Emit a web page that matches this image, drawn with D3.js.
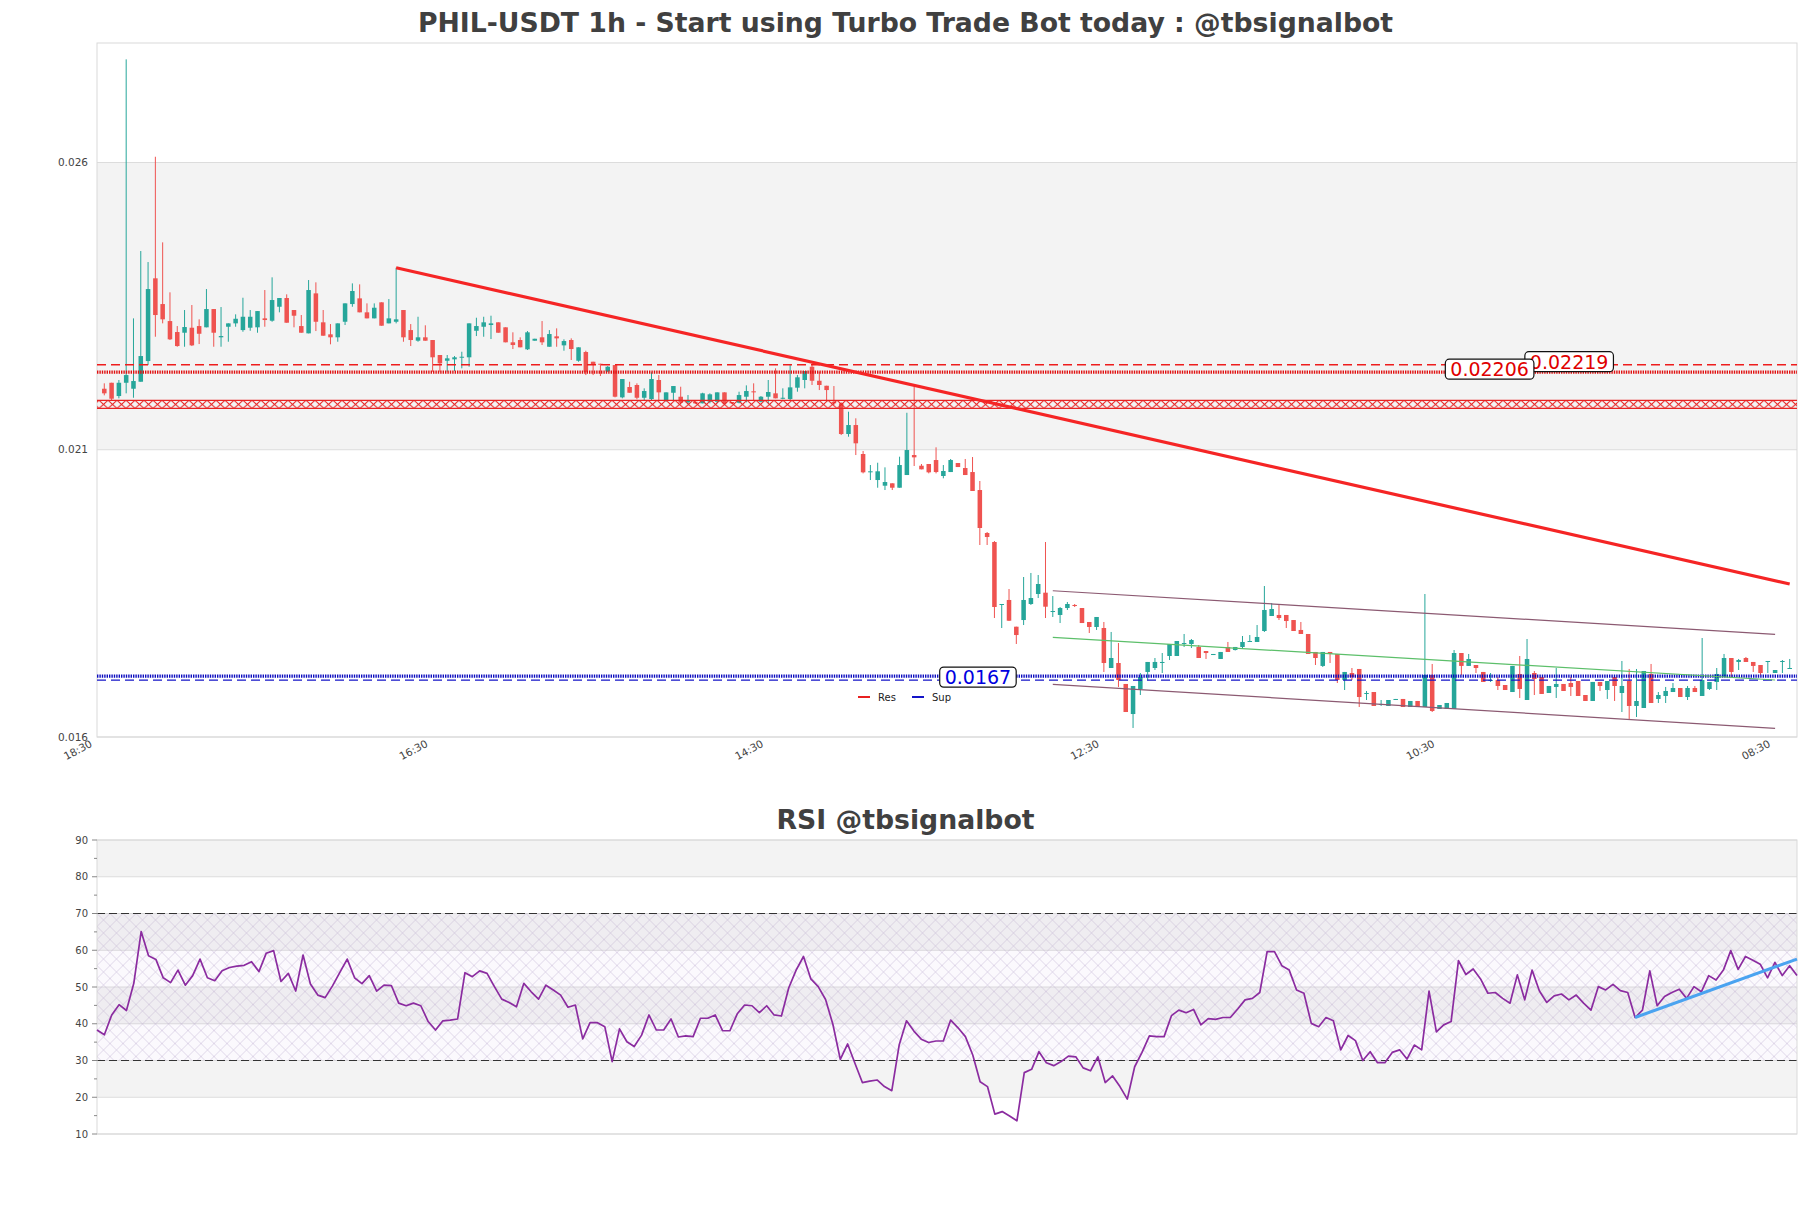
<!DOCTYPE html>
<html>
<head>
<meta charset="utf-8">
<script src="https://cdn.jsdelivr.net/npm/d3@7"></script>
<style>
  body { margin: 0; background: #fff; }
  text { font-family: "DejaVu Sans", sans-serif; }
</style>
</head>
<body>
<div id="chart"></div>
<script>
// ---- candles, 1h ----
var opens = [0.021772,0.021876,0.021645,0.021876,0.021772,0.021894,0.022254,0.023694,0.023246,0.022950,
 0.022759,0.022747,0.022834,0.022863,0.022841,0.023159,0.022667,0.022851,0.022910,0.022793,
 0.022834,0.022841,0.022997,0.022956,0.023199,0.023351,0.023142,0.022863,0.022736,0.023432,
 0.022928,0.022719,0.022667,0.022938,0.023246,0.023345,0.023102,0.022997,0.023276,0.022910,
 0.022938,0.023142,0.022793,0.022608,0.022667,0.022620,0.022359,0.022259,0.022284,0.022312,
 0.022319,0.022781,0.022851,0.022881,0.022928,0.022841,0.022580,0.022620,0.022458,0.022608,
 0.022667,0.022503,0.022684,0.022527,0.022620,0.022259,0.022411,0.022242,0.022207,0.022075,
 0.022184,0.021622,0.021802,0.021837,0.021615,0.021593,0.021924,0.021558,0.021702,0.021633,
 0.021535,0.021546,0.021518,0.021546,0.021546,0.021709,0.021541,0.021528,0.021633,0.021727,
 0.021546,0.021633,0.021692,0.021598,0.021593,0.021790,0.021924,0.022155,0.021911,0.021824,
 0.021546,0.021518,0.020984,0.021140,0.020636,0.020317,0.020183,0.020084,0.020126,0.020049,
 0.020270,0.020618,0.020432,0.020462,0.020531,0.020253,0.020322,0.020479,0.020392,0.020322,
 0.020009,0.019261,0.019104,0.018008,0.018095,0.017630,0.017746,0.018025,0.018199,0.018222,
 0.017886,0.017834,0.017955,0.018008,0.017955,0.017712,0.017625,0.017607,0.016911,0.016998,
 0.016633,0.016110,0.016546,0.016842,0.016911,0.016998,0.017120,0.017120,0.017338,0.017329,
 0.017277,0.017207,0.017137,0.017068,0.017277,0.017224,0.017277,0.017364,0.017364,0.017555,
 0.017816,0.017834,0.017834,0.017746,0.017573,0.017503,0.017190,0.016947,0.017190,0.017155,
 0.016702,0.016824,0.016894,0.016467,0.016493,0.016267,0.016250,0.016363,0.016372,0.016232,
 0.016337,0.016232,0.016789,0.016198,0.016198,0.016198,0.017172,0.016947,0.016963,0.016842,
 0.016685,0.016702,0.016615,0.016493,0.016807,0.016354,0.016824,0.016755,0.016476,0.016581,
 0.016633,0.016650,0.016685,0.016441,0.016337,0.016668,0.016528,0.016755,0.016476,0.016685,
 0.016250,0.016215,0.016807,0.016372,0.016424,0.016493,0.016563,0.016406,0.016563,0.016424,
 0.016546,0.016668,0.016755,0.017085,0.017016,0.017085,0.017016,0.016963,0.017016,0.016824,
 0.017016,0.016894];

var highs = [0.021866,0.021876,0.021924,0.027505,0.022997,0.024169,0.023977,0.025810,0.024320,0.023450,
 0.022863,0.023142,0.023229,0.022980,0.023507,0.023159,0.023194,0.022910,0.023067,0.023356,
 0.023142,0.023124,0.023490,0.023711,0.023351,0.023415,0.023142,0.023055,0.023664,0.023624,
 0.023142,0.022898,0.022910,0.023258,0.023606,0.023589,0.023258,0.023258,0.023276,0.023333,
 0.023878,0.023142,0.022898,0.023025,0.022876,0.022620,0.022359,0.022359,0.022341,0.022416,
 0.022910,0.023008,0.023025,0.023043,0.022928,0.022841,0.022754,0.022667,0.022776,0.022642,
 0.022950,0.022793,0.022823,0.022632,0.022649,0.022493,0.022434,0.022242,0.022207,0.022167,
 0.022184,0.021941,0.021894,0.021866,0.021779,0.022058,0.022010,0.021709,0.021819,0.021807,
 0.021662,0.021558,0.021702,0.021692,0.021709,0.021709,0.021541,0.021720,0.021831,0.021866,
 0.021645,0.021924,0.022127,0.021779,0.022184,0.022010,0.022080,0.022184,0.022068,0.021824,
 0.021819,0.021535,0.021372,0.021257,0.020688,0.020444,0.020484,0.020404,0.020126,0.020589,
 0.021354,0.021807,0.020462,0.020462,0.020752,0.020444,0.020549,0.020479,0.020549,0.020583,
 0.020166,0.019278,0.019121,0.018025,0.018286,0.017630,0.018495,0.018565,0.018530,0.019104,
 0.018164,0.017973,0.018060,0.018025,0.017955,0.017712,0.017799,0.017712,0.017538,0.017346,
 0.016633,0.016598,0.016824,0.017016,0.017085,0.017172,0.017329,0.017381,0.017503,0.017416,
 0.017311,0.017207,0.017155,0.017190,0.017364,0.017277,0.017468,0.017485,0.017659,0.018338,
 0.018042,0.018025,0.017834,0.017746,0.017712,0.017503,0.017190,0.017190,0.017190,0.017155,
 0.016842,0.016911,0.016894,0.016511,0.016493,0.016354,0.016354,0.016372,0.016372,0.016337,
 0.016337,0.018199,0.016981,0.016267,0.016302,0.017224,0.017172,0.017155,0.016963,0.016842,
 0.016824,0.016755,0.016615,0.016947,0.017120,0.017416,0.016859,0.016755,0.016598,0.016911,
 0.016633,0.016755,0.016685,0.016441,0.016668,0.016668,0.016685,0.016755,0.017033,0.016894,
 0.016894,0.016859,0.016981,0.016493,0.016581,0.016650,0.016563,0.016598,0.016598,0.017433,
 0.016668,0.016911,0.017155,0.017085,0.017068,0.017103,0.017016,0.016963,0.017033,0.016876,
 0.017050,0.017068];

var lows = [0.021657,0.021575,0.021605,0.021692,0.021615,0.021894,0.022184,0.022677,0.022910,0.022620,
 0.022503,0.022503,0.022515,0.022550,0.022841,0.022503,0.022503,0.022590,0.022851,0.022764,
 0.022781,0.022747,0.022851,0.022938,0.023102,0.022921,0.022841,0.022747,0.022736,0.022776,
 0.022695,0.022545,0.022590,0.022881,0.023199,0.023102,0.022997,0.022997,0.022869,0.022910,
 0.022910,0.022590,0.022515,0.022590,0.022608,0.022068,0.022068,0.022068,0.022080,0.022127,
 0.022155,0.022689,0.022677,0.022637,0.022747,0.022580,0.022463,0.022493,0.022446,0.022608,
 0.022533,0.022503,0.022503,0.022434,0.022272,0.022242,0.022010,0.022010,0.021993,0.022063,
 0.021622,0.021605,0.021702,0.021588,0.021575,0.021575,0.021575,0.021546,0.021575,0.021501,
 0.021506,0.021506,0.021518,0.021518,0.021518,0.021506,0.021506,0.021518,0.021535,0.021575,
 0.021535,0.021518,0.021605,0.021588,0.021575,0.021720,0.021779,0.021837,0.021749,0.021546,
 0.021488,0.020966,0.020937,0.020618,0.020299,0.020183,0.020049,0.020009,0.020009,0.020049,
 0.020270,0.020427,0.020369,0.020299,0.020299,0.020213,0.020322,0.020409,0.020270,0.019992,
 0.019052,0.019052,0.017781,0.017607,0.017729,0.017329,0.017659,0.018008,0.018129,0.017781,
 0.017799,0.017694,0.017921,0.017973,0.017694,0.017520,0.017573,0.016842,0.016911,0.016581,
 0.016145,0.015867,0.016441,0.016702,0.016876,0.016824,0.017050,0.017120,0.017277,0.017259,
 0.017085,0.017068,0.017137,0.017068,0.017190,0.017216,0.017259,0.017364,0.017364,0.017538,
 0.017816,0.017746,0.017607,0.017555,0.017503,0.017155,0.016963,0.016929,0.016998,0.016650,
 0.016528,0.016702,0.016232,0.016354,0.016250,0.016250,0.016250,0.016354,0.016232,0.016232,
 0.016232,0.016232,0.016145,0.016198,0.016198,0.016198,0.016789,0.016947,0.016824,0.016668,
 0.016668,0.016528,0.016528,0.016493,0.016389,0.016354,0.016441,0.016459,0.016476,0.016389,
 0.016511,0.016424,0.016424,0.016337,0.016337,0.016511,0.016372,0.016337,0.016145,0.016024,
 0.016058,0.016215,0.016302,0.016302,0.016302,0.016493,0.016406,0.016354,0.016493,0.016424,
 0.016528,0.016528,0.016755,0.016755,0.016876,0.017016,0.016842,0.016789,0.016824,0.016824,
 0.016824,0.016894];

var closes = [0.021692,0.021598,0.021876,0.022010,0.021906,0.022341,0.023507,0.023055,0.022980,0.022632,
 0.022515,0.022846,0.022527,0.022729,0.023159,0.022747,0.022689,0.022910,0.022990,0.023025,
 0.023025,0.023124,0.022968,0.023316,0.023351,0.022921,0.023043,0.022747,0.023490,0.022938,
 0.022695,0.022667,0.022910,0.023258,0.023473,0.023102,0.022997,0.023182,0.022869,0.022997,
 0.022980,0.022667,0.022620,0.022667,0.022608,0.022319,0.022214,0.022301,0.022319,0.022329,
 0.022910,0.022863,0.022928,0.022910,0.022747,0.022580,0.022533,0.022493,0.022754,0.022642,
 0.022580,0.022724,0.022649,0.022602,0.022463,0.022493,0.022068,0.022197,0.022190,0.022155,
 0.021633,0.021941,0.021702,0.021615,0.021732,0.021941,0.021709,0.021709,0.021819,0.021528,
 0.021558,0.021518,0.021692,0.021675,0.021709,0.021518,0.021518,0.021662,0.021732,0.021709,
 0.021633,0.021715,0.021605,0.021615,0.021796,0.021971,0.022080,0.021911,0.021837,0.021749,
 0.021518,0.020984,0.021140,0.020822,0.020317,0.020335,0.020335,0.020148,0.020049,0.020444,
 0.020705,0.020578,0.020369,0.020317,0.020322,0.020340,0.020531,0.020409,0.020270,0.019992,
 0.019348,0.019191,0.017973,0.018025,0.017734,0.017485,0.018095,0.018129,0.018373,0.017978,
 0.017903,0.017955,0.018025,0.017990,0.017694,0.017625,0.017799,0.016998,0.017085,0.016702,
 0.016145,0.016598,0.016755,0.017016,0.017016,0.017016,0.017329,0.017381,0.017346,0.017398,
 0.017085,0.017172,0.017155,0.017190,0.017190,0.017277,0.017364,0.017381,0.017451,0.017921,
 0.017938,0.017781,0.017729,0.017555,0.017503,0.017155,0.017085,0.017190,0.017155,0.016702,
 0.016842,0.016755,0.016406,0.016476,0.016250,0.016285,0.016354,0.016372,0.016232,0.016337,
 0.016232,0.016789,0.016163,0.016267,0.016302,0.017172,0.016947,0.017068,0.016911,0.016668,
 0.016702,0.016598,0.016528,0.016947,0.016546,0.017068,0.016720,0.016459,0.016598,0.016633,
 0.016511,0.016581,0.016424,0.016337,0.016668,0.016598,0.016685,0.016598,0.016598,0.016250,
 0.016337,0.016859,0.016302,0.016441,0.016511,0.016563,0.016406,0.016563,0.016493,0.016702,
 0.016668,0.016807,0.017085,0.016842,0.017050,0.017016,0.016947,0.016824,0.017033,0.016876,
 0.017033,0.016911];

// ---- RSI series ----
var rsi = [38.3,37.0,42.4,45.2,43.6,51.0,65.1,58.5,57.5,52.5,
 51.2,54.6,50.5,53.1,57.6,52.5,51.7,54.4,55.3,55.7,
 55.9,56.9,54.2,59.2,59.9,51.5,53.7,48.9,58.7,50.8,
 47.8,47.1,50.3,54.0,57.6,52.5,50.9,53.1,48.9,50.5,
 50.4,45.6,44.9,45.6,44.9,40.6,38.3,40.8,41.0,41.3,
 53.9,52.8,54.4,53.7,50.1,46.7,45.8,44.6,51.0,48.7,
 46.7,50.5,49.2,47.8,44.5,45.1,35.9,40.3,40.3,39.2,
 29.7,38.6,35.1,33.8,36.9,42.4,38.3,38.3,41.3,36.4,
 36.7,36.5,41.5,41.5,42.4,38.1,38.1,42.7,45.1,44.9,
 43.0,44.9,42.4,42.1,49.8,54.6,58.3,52.2,50.1,46.6,
 39.8,30.3,34.5,29.2,24.0,24.4,24.7,22.9,21.8,34.2,
 40.8,38.0,35.8,34.9,35.3,35.3,41.0,38.9,36.5,31.5,
 24.2,22.9,15.4,16.1,14.9,13.6,26.7,27.6,32.4,29.4,
 28.6,29.7,31.2,31.0,28.0,27.2,31.0,24.0,25.8,22.9,
 19.5,28.3,32.2,36.7,36.5,36.5,42.2,43.7,43.0,43.9,
 39.7,41.4,41.2,41.7,41.7,44.0,46.5,46.9,48.5,59.6,
 59.6,55.8,54.6,49.2,48.3,40.1,39.2,41.7,40.8,32.9,
 36.8,35.4,30.0,32.4,29.4,29.4,32.2,32.9,30.4,34.2,
 32.9,48.9,37.8,39.7,40.6,57.2,53.4,54.9,52.2,48.3,
 48.5,46.9,45.6,53.3,46.5,54.6,48.9,45.8,47.6,48.1,
 46.5,47.8,45.6,43.7,50.1,49.2,50.7,49.0,48.5,41.7,
 43.7,54.4,44.9,47.4,48.5,49.4,46.9,50.1,48.7,53.1,
 51.9,54.6,59.9,54.8,58.3,57.3,56.2,52.5,56.7,53.1,
 55.8,53.1];

// ---- axes ----
var xTickPos = [-1.45, 44.55, 90.55, 136.55, 182.55, 228.55];
var xTickLabels = ["18:30", "16:30", "14:30", "12:30", "10:30", "08:30"];
var priceTicks = [0.01571, 0.02071, 0.02571];
var priceTop = 0.02779;
var rsiTicks = [10, 20, 30, 40, 50, 60, 70, 80, 90];
var rsiMinor = [15, 25, 35, 45, 55, 65, 75, 85];

// ---- levels and lines ----
var resDashed = 0.02219, resDotted = 0.02206;
var supDashed = 0.01670, supDotted = 0.01677;
var resZone = [0.02143, 0.02157];
var trendRes = [[40, 0.023878], [231, 0.018373]];
var chanUpper = [[130, 0.018256], [229, 0.017497]];
var chanMid = [[130, 0.017445], [229, 0.016702]];
var chanLower = [[130, 0.016627], [229, 0.015861]];
var priceLabels = [
  {text: "0.02219", at: 194.7, value: resDashed, color: "#e00000"},
  {text: "0.02206", at: 183.8, value: resDotted, color: "#e00000"},
  {text: "0.0167", at: 114.5, value: supDashed, color: "#0000e0"}
];
var rsiBounds = [30, 70];
var rsiTrend = [[209, 41.7], [231, 57.6]];

var upColor = "#26a69a", downColor = "#ef5350";

var W = 1811, H = 1208;
var svg = d3.select("#chart").append("svg")
  .attr("width", W).attr("height", H)
  .style("background", "#fff");

var defs = svg.append("defs");

// ================= main price panel =================
var pm = {left: 97, right: 1797, top: 43, bottom: 737};
var x = d3.scaleLinear().domain([-1, 232]).range([pm.left, pm.right]);
var y = d3.scaleLinear().domain([priceTicks[0], priceTop]).range([pm.bottom, pm.top]);

defs.append("clipPath").attr("id", "clipMain")
  .append("rect").attr("x", pm.left).attr("y", pm.top)
  .attr("width", pm.right - pm.left).attr("height", pm.bottom - pm.top);

var main = svg.append("g");

// alternating bands
var pEdges = priceTicks.concat([priceTop]);
for (var k = 0; k < pEdges.length - 1; k++) {
  if (k % 2 === 1) {
    main.append("rect")
      .attr("x", pm.left).attr("width", pm.right - pm.left)
      .attr("y", y(pEdges[k + 1])).attr("height", y(pEdges[k]) - y(pEdges[k + 1]))
      .attr("fill", "#f3f3f3");
  }
}
main.selectAll(".pgrid").data(priceTicks).enter().append("line")
  .attr("x1", pm.left).attr("x2", pm.right)
  .attr("y1", function(d) { return y(d); }).attr("y2", function(d) { return y(d); })
  .attr("stroke", "#dcdcdc").attr("stroke-width", 1);

main.append("rect")
  .attr("x", pm.left).attr("y", pm.top)
  .attr("width", pm.right - pm.left).attr("height", pm.bottom - pm.top)
  .attr("fill", "none").attr("stroke", "#d9d9d9").attr("stroke-width", 1);

// y tick labels
main.selectAll(".ptick").data(priceTicks).enter().append("text")
  .attr("x", pm.left - 9).attr("y", function(d) { return y(d); })
  .attr("dy", "0.35em").attr("text-anchor", "end")
  .style("font-size", "10.5px").attr("fill", "#444")
  .text(function(d) { return d3.format(".3f")(d); });

// x tick labels
main.selectAll(".xtick").data(xTickPos).enter().append("text")
  .attr("transform", function(d) { return "translate(" + (x(d) - 4.5) + "," + (pm.bottom + 2) + ") rotate(-28)"; })
  .attr("text-anchor", "end").attr("dominant-baseline", "hanging")
  .style("font-size", "10.5px").attr("fill", "#444")
  .text(function(d, i) { return xTickLabels[i]; });

var plot = main.append("g").attr("clip-path", "url(#clipMain)");

// candles
var N = closes.length;
var step = x(1) - x(0);
var bw = step * 0.62;
var idx = d3.range(N);
function candleColor(i) { return closes[i] >= opens[i] ? upColor : downColor; }

plot.selectAll(".wick").data(idx).enter().append("line")
  .attr("x1", function(i) { return x(i); }).attr("x2", function(i) { return x(i); })
  .attr("y1", function(i) { return y(highs[i]); }).attr("y2", function(i) { return y(lows[i]); })
  .attr("stroke", candleColor).attr("stroke-width", 1);

plot.selectAll(".body").data(idx).enter().append("rect")
  .attr("x", function(i) { return x(i) - bw / 2; }).attr("width", bw)
  .attr("y", function(i) { return y(Math.max(opens[i], closes[i])); })
  .attr("height", function(i) { return Math.max(1, Math.abs(y(opens[i]) - y(closes[i]))); })
  .attr("fill", candleColor);

// hatched resistance zone
var zTop = y(resZone[1]), zBot = y(resZone[0]), zH = zBot - zTop;
var hp = defs.append("pattern").attr("id", "resHatch")
  .attr("patternUnits", "userSpaceOnUse")
  .attr("x", 0).attr("y", zTop).attr("width", 9).attr("height", zH);
hp.append("path")
  .attr("d", "M0,0 L9," + zH + " M9,0 L0," + zH)
  .attr("stroke", "#e82222").attr("stroke-width", 1.1).attr("fill", "none");
plot.append("rect")
  .attr("x", pm.left).attr("width", pm.right - pm.left)
  .attr("y", zTop).attr("height", zH)
  .attr("fill", "url(#resHatch)");
plot.selectAll(".zedge").data(resZone).enter().append("line")
  .attr("x1", pm.left).attr("x2", pm.right)
  .attr("y1", function(d) { return y(d); }).attr("y2", function(d) { return y(d); })
  .attr("stroke", "#e82222").attr("stroke-width", 1.1);

// horizontal levels
function hline(v, color, dash, width) {
  plot.append("line")
    .attr("x1", pm.left).attr("x2", pm.right)
    .attr("y1", y(v)).attr("y2", y(v))
    .attr("stroke", color).attr("stroke-width", width)
    .attr("stroke-dasharray", dash);
}
hline(resDashed, "#ee1c1c", "9,5", 1.4);
hline(resDotted, "#e01010", "1.4,1", 3.2);
hline(supDashed, "#1414c8", "9,5", 1.4);
hline(supDotted, "#0c0cc0", "1.4,1", 3.2);

var line = d3.line()
  .x(function(d) { return x(d[0]); })
  .y(function(d) { return y(d[1]); });

plot.append("path").datum(chanUpper).attr("d", line)
  .attr("stroke", "#8c5a72").attr("stroke-width", 1.2).attr("fill", "none");
plot.append("path").datum(chanLower).attr("d", line)
  .attr("stroke", "#8c5a72").attr("stroke-width", 1.2).attr("fill", "none");
plot.append("path").datum(chanMid).attr("d", line)
  .attr("stroke", "#5cbf6a").attr("stroke-width", 1.2).attr("fill", "none");
plot.append("path").datum(trendRes).attr("d", line)
  .attr("stroke", "#f52525").attr("stroke-width", 3.2).attr("fill", "none");

// level labels
priceLabels.forEach(function(p) {
  var g = main.append("g");
  var t = g.append("text")
    .attr("x", x(p.at) + 5).attr("y", y(p.value) - 3)
    .attr("dy", "0.36em")
    .style("font-size", "19px").attr("fill", p.color)
    .text(p.text);
  var w = t.node().getComputedTextLength();
  g.insert("rect", "text")
    .attr("x", x(p.at)).attr("y", y(p.value) - 13)
    .attr("width", w + 10).attr("height", 20)
    .attr("rx", 4).attr("ry", 4)
    .attr("fill", "#fff").attr("stroke", "#111").attr("stroke-width", 1.2);
});

// legend
var legend = main.append("g").attr("transform", "translate(858,697)");
var legItems = [{name: "Res", color: "#e82020"}, {name: "Sup", color: "#1414c8"}];
legItems.forEach(function(d, i) {
  var gx = i * 54;
  legend.append("line").attr("x1", gx).attr("x2", gx + 12).attr("y1", 0).attr("y2", 0)
    .attr("stroke", d.color).attr("stroke-width", 2);
  legend.append("text").attr("x", gx + 20).attr("y", 0).attr("dy", "0.35em")
    .style("font-size", "10px").attr("fill", "#222").text(d.name);
});

svg.append("text")
  .attr("x", W / 2).attr("y", 32).attr("text-anchor", "middle")
  .style("font-size", "26.7px").style("font-weight", "bold").attr("fill", "#404040")
  .text("PHIL-USDT 1h - Start using Turbo Trade Bot today : @tbsignalbot");

// ================= RSI panel =================
var rm = {left: 97, right: 1797, top: 840, bottom: 1134};
var rx = d3.scaleLinear().domain([0, rsi.length - 1]).range([rm.left, rm.right]);
var ry = d3.scaleLinear().domain([10, 90]).range([rm.bottom, rm.top]);

var rg = svg.append("g");
for (var j = 0; j < rsiTicks.length - 1; j++) {
  if (j % 2 === 1) {
    rg.append("rect")
      .attr("x", rm.left).attr("width", rm.right - rm.left)
      .attr("y", ry(rsiTicks[j + 1])).attr("height", ry(rsiTicks[j]) - ry(rsiTicks[j + 1]))
      .attr("fill", "#f3f3f3");
  }
}
rg.selectAll(".rgrid").data(rsiTicks).enter().append("line")
  .attr("x1", rm.left).attr("x2", rm.right)
  .attr("y1", function(d) { return ry(d); }).attr("y2", function(d) { return ry(d); })
  .attr("stroke", "#dcdcdc").attr("stroke-width", 1);

var rp = defs.append("pattern").attr("id", "rsiHatch")
  .attr("patternUnits", "userSpaceOnUse")
  .attr("x", rm.left).attr("y", ry(rsiBounds[1])).attr("width", 13).attr("height", 13);
rp.append("path").attr("d", "M0,0 L13,13 M13,0 L0,13")
  .attr("stroke", "#b9a8cc").attr("stroke-width", 0.6).attr("fill", "none").attr("opacity", 0.7);
rg.append("rect")
  .attr("x", rm.left).attr("width", rm.right - rm.left)
  .attr("y", ry(rsiBounds[1])).attr("height", ry(rsiBounds[0]) - ry(rsiBounds[1]))
  .attr("fill", "rgba(190,150,215,0.06)");
rg.append("rect")
  .attr("x", rm.left).attr("width", rm.right - rm.left)
  .attr("y", ry(rsiBounds[1])).attr("height", ry(rsiBounds[0]) - ry(rsiBounds[1]))
  .attr("fill", "url(#rsiHatch)");

rg.selectAll(".rbound").data(rsiBounds).enter().append("line")
  .attr("x1", rm.left).attr("x2", rm.right)
  .attr("y1", function(d) { return ry(d); }).attr("y2", function(d) { return ry(d); })
  .attr("stroke", "#333").attr("stroke-width", 1.2).attr("stroke-dasharray", "8,4");

rg.append("rect")
  .attr("x", rm.left).attr("y", rm.top)
  .attr("width", rm.right - rm.left).attr("height", rm.bottom - rm.top)
  .attr("fill", "none").attr("stroke", "#d9d9d9").attr("stroke-width", 1);

// y axis ticks
rg.selectAll(".rtick").data(rsiTicks).enter().append("line")
  .attr("x1", rm.left - 5).attr("x2", rm.left)
  .attr("y1", function(d) { return ry(d); }).attr("y2", function(d) { return ry(d); })
  .attr("stroke", "#888");
rg.selectAll(".rminor").data(rsiMinor).enter().append("line")
  .attr("x1", rm.left - 3).attr("x2", rm.left)
  .attr("y1", function(d) { return ry(d); }).attr("y2", function(d) { return ry(d); })
  .attr("stroke", "#888");
rg.selectAll(".rlabel").data(rsiTicks).enter().append("text")
  .attr("x", rm.left - 9).attr("y", function(d) { return ry(d); })
  .attr("dy", "0.35em").attr("text-anchor", "end")
  .style("font-size", "10px").attr("fill", "#444")
  .text(function(d) { return d; });

var rline = d3.line()
  .x(function(d, i) { return rx(i); })
  .y(function(d) { return ry(d); });
rg.append("path").datum(rsi).attr("d", rline)
  .attr("fill", "none").attr("stroke", "#8b2ca0").attr("stroke-width", 1.7)
  .attr("stroke-linejoin", "round");

rg.append("path").datum(rsiTrend)
  .attr("d", d3.line().x(function(d) { return rx(d[0]); }).y(function(d) { return ry(d[1]); }))
  .attr("fill", "none").attr("stroke", "#4aa3f0").attr("stroke-width", 3);

svg.append("text")
  .attr("x", W / 2).attr("y", 829).attr("text-anchor", "middle")
  .style("font-size", "26.7px").style("font-weight", "bold").attr("fill", "#404040")
  .text("RSI @tbsignalbot");
</script>
</body>
</html>
